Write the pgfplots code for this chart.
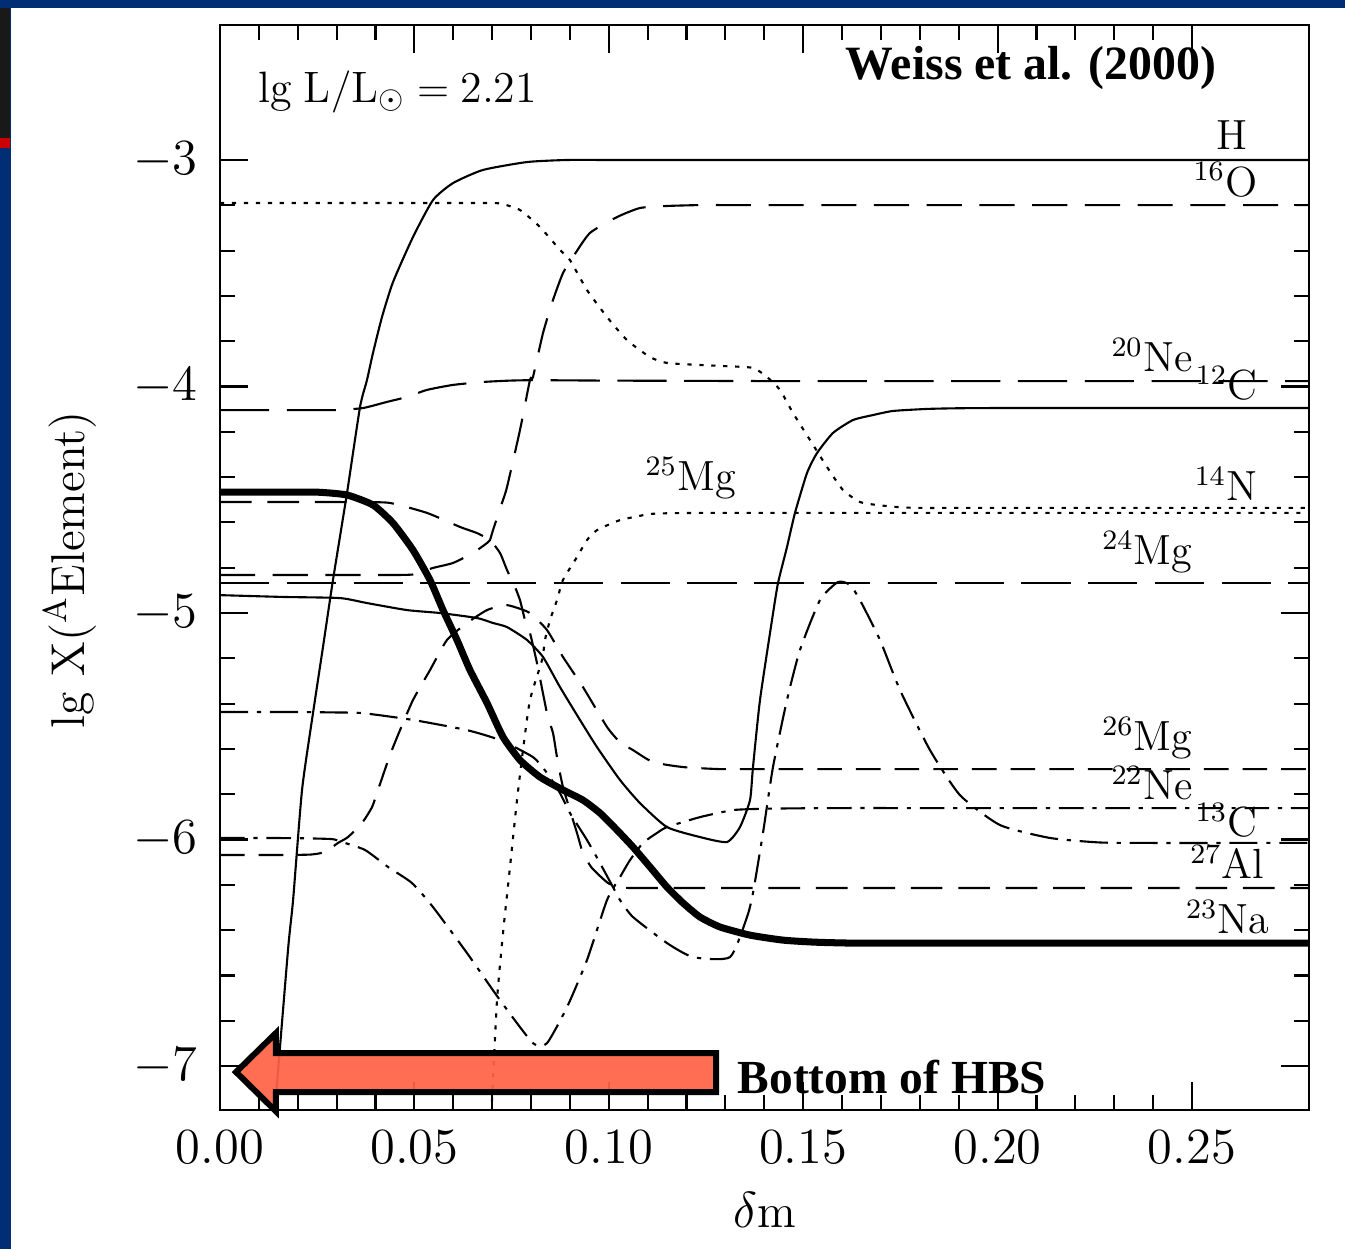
\documentclass[border=0pt]{standalone}
\usepackage{fontspec}
\usepackage{pgfplots}
\pgfplotsset{compat=1.18}
\newfontfamily\tnr{Liberation Serif}
\definecolor{navy}{RGB}{0,45,115}
\definecolor{arrowred}{RGB}{255,99,71}
\begin{document}
\begin{tikzpicture}
\path[use as bounding box] (0,0) rectangle (13.45,12.49);
\fill[white] (0,0) rectangle (13.45,12.49);
\fill[navy] (0,12.41) rectangle (13.45,12.49);
\fill[navy] (0,0) rectangle (0.11,12.49);
\fill[black!90] (0,11.11) rectangle (0.10,12.41);
\fill[red!80!black] (0,11.01) rectangle (0.10,11.11);
\begin{axis}[
  at={(2.20cm,1.39cm)}, anchor=south west,
  scale only axis, width=10.89cm, height=10.85cm,
  xmin=0, xmax=0.2801, ymin=-7.194, ymax=-2.404,
  xtick={0,0.05,0.10,0.15,0.20,0.25},
  ytick={-7,-6,-5,-4,-3},
  scaled x ticks=false,
  minor x tick num=4, minor y tick num=4,
  tick align=inside,
  major tick length=8pt, minor tick length=4.3pt,
  axis line style={line width=0.6pt},
  every tick/.style={black, line width=0.6pt},
  xticklabel style={/pgf/number format/fixed, /pgf/number format/fixed zerofill, /pgf/number format/precision=2, font=\fontsize{13.5}{16}\selectfont, yshift=-2.5pt},
  yticklabel style={font=\fontsize{13.5}{16}\selectfont, xshift=-2.8pt},
  xlabel={$\delta$m},
  ylabel={lg X($^{\mathrm{A}}$Element)},
  label style={font=\fontsize{13.5}{16}\selectfont},
  xlabel style={at={(axis description cs:0.5,-0.092)}, anchor=center},
  ylabel style={at={(axis description cs:-0.138,0.498)}, anchor=center},
  clip mode=individual,
  every axis plot/.append style={line width=0.6pt, black, smooth, tension=0.35},
]
% H
\addplot[solid] coordinates {(0.0137,-7.28) (0.01749,-6.488) (0.0188,-6.267) (0.0211,-5.781) (0.02392,-5.442) (0.02649,-5.150) (0.02906,-4.854) (0.03267,-4.470) (0.03601,-4.091) (0.03781,-3.971) (0.03935,-3.852) (0.04167,-3.693) (0.0445,-3.539) (0.04964,-3.340) (0.05478,-3.177) (0.05993,-3.102) (0.06764,-3.044) (0.0790,-3.009) (0.0892,-3.000) (0.10,-3.0) (0.11,-3.0) (0.12,-3.0) (0.14,-3.0) (0.16,-3.0) (0.18,-3.0) (0.20,-3.0) (0.22,-3.0) (0.24,-3.0) (0.26,-3.0) (0.2801,-3.000)};
% 16O
\addplot[dash pattern=on 10pt off 5pt] coordinates {(0,-4.832) (0.01,-4.832) (0.02,-4.832) (0.03,-4.832) (0.04,-4.832) (0.0496,-4.830) (0.05478,-4.801) (0.05993,-4.779) (0.06507,-4.735) (0.06867,-4.691) (0.06944,-4.678) (0.07022,-4.634) (0.07253,-4.514) (0.07382,-4.444) (0.07716,-4.192) (0.07973,-3.971) (0.0805,-3.958) (0.08308,-3.764) (0.08565,-3.618) (0.08822,-3.499) (0.09079,-3.428) (0.09516,-3.322) (0.10211,-3.252) (0.10802,-3.212) (0.11497,-3.203) (0.12346,-3.199) (0.13,-3.199) (0.14,-3.199) (0.16,-3.199) (0.18,-3.199) (0.20,-3.199) (0.22,-3.199) (0.24,-3.199) (0.26,-3.199) (0.2801,-3.199)};
% 20Ne
\addplot[dash pattern=on 14pt off 5pt] coordinates {(0,-4.104) (0.01,-4.104) (0.02,-4.104) (0.03,-4.104) (0.03678,-4.095) (0.04295,-4.068) (0.0481,-4.046) (0.05324,-4.015) (0.05993,-3.993) (0.06764,-3.980) (0.0745,-3.974) (0.0805,-3.972) (0.09,-3.973) (0.10,-3.974) (0.12,-3.975) (0.14,-3.976) (0.16,-3.976) (0.18,-3.976) (0.20,-3.976) (0.22,-3.976) (0.24,-3.976) (0.26,-3.976) (0.2801,-3.976)};
% 12C
\addplot[solid] coordinates {(0,-4.921) (0.0162,-4.929) (0.03086,-4.934) (0.03781,-4.956) (0.0481,-4.987) (0.05658,-5.000) (0.0661,-5.022) (0.07022,-5.044) (0.07382,-5.062) (0.07896,-5.119) (0.08308,-5.194) (0.08745,-5.327) (0.09259,-5.472) (0.09697,-5.592) (0.10288,-5.737) (0.10802,-5.839) (0.11497,-5.945) (0.12346,-5.989) (0.1304,-6.011) (0.13374,-5.945) (0.13632,-5.826) (0.13709,-5.680) (0.13889,-5.384) (0.14198,-5.031) (0.14352,-4.868) (0.14583,-4.709) (0.14789,-4.558) (0.15098,-4.382) (0.15355,-4.294) (0.15767,-4.205) (0.16281,-4.148) (0.16795,-4.126) (0.1731,-4.108) (0.18184,-4.099) (0.19,-4.096) (0.20,-4.095) (0.22,-4.095) (0.24,-4.095) (0.26,-4.095) (0.2801,-4.095)};
% 14N
\addplot[dash pattern=on 1.2pt off 2.2pt] coordinates {(0,-3.190) (0.01,-3.190) (0.02,-3.190) (0.03,-3.190) (0.04,-3.190) (0.05,-3.190) (0.06,-3.190) (0.067,-3.190) (0.07202,-3.192) (0.07716,-3.221) (0.0823,-3.296) (0.08745,-3.397) (0.09002,-3.442) (0.09439,-3.574) (0.09954,-3.693) (0.10468,-3.795) (0.1106,-3.870) (0.11497,-3.896) (0.12346,-3.905) (0.130,-3.910) (0.13709,-3.918) (0.14069,-3.958) (0.14403,-4.015) (0.14738,-4.117) (0.15175,-4.236) (0.15612,-4.355) (0.16024,-4.457) (0.16461,-4.510) (0.16898,-4.523) (0.1749,-4.533) (0.18,-4.536) (0.19,-4.536) (0.20,-4.536) (0.22,-4.536) (0.24,-4.536) (0.26,-4.536) (0.2801,-4.536)};
% 25Mg
\addplot[dash pattern=on 1.2pt off 2.2pt] coordinates {(0.0696,-7.26) (0.06996,-7.150) (0.07125,-6.709) (0.07279,-6.413) (0.07459,-6.121) (0.07639,-5.826) (0.07793,-5.605) (0.07973,-5.384) (0.08282,-5.208) (0.08359,-5.119) (0.08488,-5.031) (0.08668,-4.943) (0.08822,-4.854) (0.09182,-4.753) (0.09439,-4.678) (0.09697,-4.634) (0.10288,-4.590) (0.1106,-4.563) (0.117,-4.559) (0.12346,-4.558) (0.13,-4.558) (0.14,-4.558) (0.16,-4.558) (0.18,-4.558) (0.20,-4.558) (0.22,-4.558) (0.24,-4.558) (0.26,-4.558) (0.2801,-4.558)};
% 24Mg
\addplot[dash pattern=on 14pt off 5pt] coordinates {(0,-4.866) (0.2801,-4.866)};
% 26Mg
\addplot[dash pattern=on 7pt off 4pt] coordinates {(0,-6.068) (0.01,-6.068) (0.018,-6.068) (0.0235,-6.066) (0.0270,-6.055) (0.03035,-6.015) (0.03292,-5.989) (0.03652,-5.927) (0.0391,-5.857) (0.04064,-5.781) (0.04372,-5.627) (0.0463,-5.517) (0.04964,-5.384) (0.05401,-5.252) (0.05838,-5.119) (0.06353,-5.044) (0.06867,-4.987) (0.0733,-4.965) (0.07587,-4.974) (0.07973,-5.000) (0.0841,-5.075) (0.08822,-5.194) (0.09336,-5.327) (0.09954,-5.503) (0.10288,-5.570) (0.10622,-5.605) (0.11137,-5.658) (0.11909,-5.680) (0.1286,-5.689) (0.14,-5.689) (0.15,-5.689) (0.17,-5.689) (0.19,-5.689) (0.21,-5.689) (0.23,-5.689) (0.25,-5.689) (0.2801,-5.689)};
% 22Ne
\addplot[dash pattern=on 7pt off 2.5pt on 1.2pt off 2.5pt] coordinates {(0,-5.993) (0.01,-5.993) (0.02,-5.994) (0.0288,-5.998) (0.03138,-6.011) (0.03729,-6.046) (0.04321,-6.121) (0.04938,-6.192) (0.05478,-6.298) (0.06353,-6.501) (0.07202,-6.709) (0.0805,-6.899) (0.0841,-6.899) (0.08925,-6.740) (0.09439,-6.532) (0.09954,-6.267) (0.10288,-6.166) (0.10545,-6.091) (0.1088,-6.015) (0.1124,-5.971) (0.11497,-5.945) (0.12346,-5.901) (0.13194,-5.870) (0.14,-5.864) (0.15,-5.862) (0.16,-5.861) (0.18,-5.861) (0.20,-5.861) (0.22,-5.861) (0.24,-5.861) (0.26,-5.861) (0.2801,-5.861)};
% 13C
\addplot[dash pattern=on 8pt off 2.5pt on 1.2pt off 2.5pt] coordinates {(0,-5.437) (0.01,-5.437) (0.02,-5.437) (0.03,-5.439) (0.03678,-5.442) (0.04964,-5.472) (0.06353,-5.517) (0.07202,-5.561) (0.0805,-5.636) (0.0841,-5.706) (0.08745,-5.795) (0.09002,-5.883) (0.09439,-6.002) (0.09774,-6.104) (0.10108,-6.210) (0.10288,-6.267) (0.10622,-6.342) (0.11497,-6.457) (0.12166,-6.519) (0.13117,-6.519) (0.13555,-6.342) (0.13709,-6.236) (0.13966,-5.971) (0.14223,-5.680) (0.14583,-5.384) (0.14918,-5.163) (0.15432,-4.943) (0.15895,-4.863) (0.16204,-4.876) (0.16461,-4.943) (0.16975,-5.119) (0.1749,-5.340) (0.18261,-5.605) (0.19033,-5.804) (0.20062,-5.936) (0.21348,-5.993) (0.22634,-6.013) (0.24,-6.015) (0.26,-6.015) (0.2801,-6.015)};
% 27Al
\addplot[dash pattern=on 9pt off 4.5pt] coordinates {(0,-4.510) (0.01,-4.510) (0.02,-4.510) (0.03,-4.510) (0.0370,-4.511) (0.04372,-4.514) (0.05324,-4.558) (0.06173,-4.620) (0.0661,-4.647) (0.06944,-4.678) (0.07202,-4.735) (0.07382,-4.810) (0.07587,-4.885) (0.07716,-4.943) (0.07845,-5.031) (0.07973,-5.088) (0.08153,-5.221) (0.0841,-5.442) (0.08565,-5.530) (0.08668,-5.636) (0.08822,-5.768) (0.09182,-5.971) (0.09336,-6.060) (0.09568,-6.126) (0.0998,-6.192) (0.10288,-6.212) (0.108,-6.214) (0.115,-6.214) (0.125,-6.214) (0.14,-6.214) (0.16,-6.214) (0.18,-6.214) (0.20,-6.214) (0.22,-6.214) (0.24,-6.214) (0.26,-6.214) (0.2801,-6.214)};
% 23Na
\addplot[solid, line width=2pt] coordinates {(0,-4.466) (0.01,-4.466) (0.02,-4.466) (0.02572,-4.467) (0.03267,-4.479) (0.03935,-4.523) (0.0445,-4.603) (0.04964,-4.722) (0.05401,-4.854) (0.05736,-4.987) (0.06096,-5.119) (0.0643,-5.252) (0.06867,-5.397) (0.07279,-5.547) (0.07716,-5.649) (0.0823,-5.724) (0.08822,-5.781) (0.09336,-5.826) (0.09774,-5.883) (0.10211,-5.958) (0.10622,-6.033) (0.1106,-6.121) (0.11497,-6.210) (0.11909,-6.280) (0.12346,-6.342) (0.1286,-6.386) (0.13632,-6.422) (0.14481,-6.444) (0.153,-6.453) (0.16204,-6.457) (0.175,-6.457) (0.19,-6.457) (0.21,-6.457) (0.23,-6.457) (0.25,-6.457) (0.2801,-6.457)};
% labels
\begin{scope}[every node/.style={font=\fontsize{12}{14}\selectfont, inner sep=0pt}]
\node[anchor=east] at (axis cs:0.2644,-2.890) {H};
\node[anchor=east] at (axis cs:0.2670,-3.088) {$^{16}$O};
\node[anchor=east] at (axis cs:0.2503,-3.861) {$^{20}$Ne};
\node[anchor=east] at (axis cs:0.2670,-3.985) {$^{12}$C};
\node[anchor=west] at (axis cs:0.1093,-4.404) {$^{25}$Mg};
\node[anchor=east] at (axis cs:0.2670,-4.430) {$^{14}$N};
\node[anchor=east] at (axis cs:0.2503,-4.731) {$^{24}$Mg};
\node[anchor=east] at (axis cs:0.2503,-5.552) {$^{26}$Mg};
\node[anchor=east] at (axis cs:0.2503,-5.751) {$^{22}$Ne};
\node[anchor=east] at (axis cs:0.2670,-5.914) {$^{13}$C};
\node[anchor=east] at (axis cs:0.2688,-6.099) {$^{27}$Al};
\node[anchor=east] at (axis cs:0.2701,-6.342) {$^{23}$Na};
\node[anchor=west, font=\fontsize{12.5}{15}\selectfont] at (axis cs:0.00977,-2.700) {$\mathrm{lg\;L/L_{\odot}=2.21}$};
\end{scope}
\node[font=\tnr\bfseries\fontsize{13.6}{16}\selectfont, inner sep=0pt] at (axis cs:0.2086,-2.594) {Weiss et al. (2000)};
\draw[line width=1.7pt, fill=arrowred, fill opacity=0.93, line join=miter] (axis cs:0.00412,-7.0265) -- (axis cs:0.0144,-6.854) -- (axis cs:0.0144,-6.943) -- (axis cs:0.1276,-6.943) -- (axis cs:0.1276,-7.115) -- (axis cs:0.0144,-7.115) -- (axis cs:0.0144,-7.20) -- cycle;
\node[anchor=west, font=\tnr\bfseries\fontsize{13.5}{16}\selectfont, inner sep=0pt] at (axis cs:0.13297,-7.049) {Bottom of HBS};
\end{axis}
\end{tikzpicture}
\end{document}
